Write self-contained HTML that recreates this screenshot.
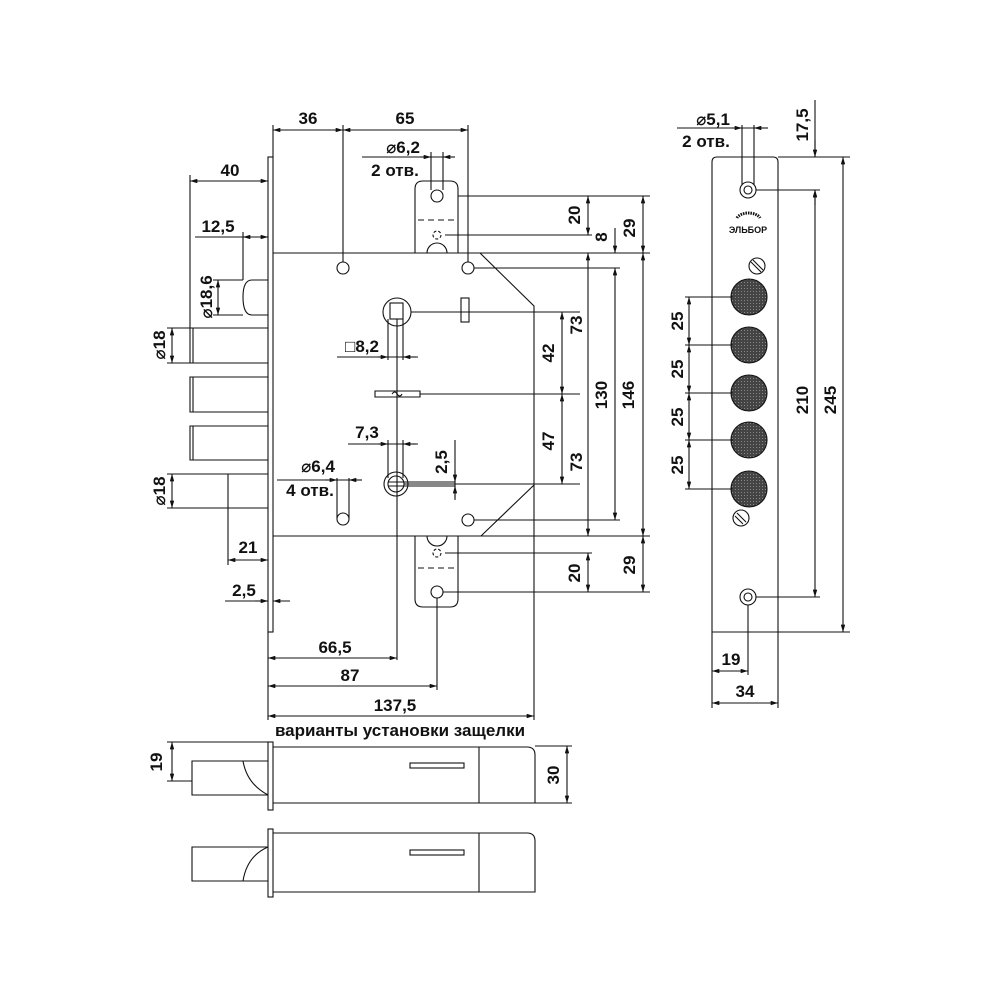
<!DOCTYPE html>
<html><head><meta charset="utf-8"><style>
html,body{margin:0;padding:0;background:#fff}
svg{display:block}
text{font-family:"Liberation Sans","DejaVu Sans",sans-serif;font-weight:bold;font-size:17px;fill:#111}
</style></head><body>
<svg width="1000" height="1000" viewBox="0 0 1000 1000" xmlns="http://www.w3.org/2000/svg">
<defs>
<marker id="a" viewBox="0 0 10 6" refX="10" refY="3" markerWidth="8" markerHeight="4" orient="auto-start-reverse"><path d="M0,0L10,3L0,6z" fill="#111"/></marker>
<pattern id="h" width="3" height="3" patternUnits="userSpaceOnUse"><rect width="3" height="3" fill="#444"/><rect width="1" height="1" fill="#888"/></pattern>
</defs>
<g stroke="#111" stroke-width="1.1" fill="none">
<!-- faceplate & body -->
<rect x="268" y="157" width="5" height="475" fill="#fff"/>
<path d="M273,253 H480 L534,306 V485 L481,536 H273"/>
<line x1="480" y1="253" x2="650" y2="253"/>
<line x1="481" y1="536" x2="650" y2="536"/>
<line x1="534" y1="485" x2="534" y2="720"/>
<!-- strike plates -->
<path d="M415,253 V189 Q415,181 423,181 H450 Q458,181 458,189 V253"/>
<circle cx="437" cy="196" r="6"/>
<path d="M418,220 H455" stroke-dasharray="6,4"/>
<circle cx="437" cy="235" r="4" stroke-dasharray="3,2"/>
<path d="M427,253 A10,10 0 0 1 447,253"/>
<path d="M415,536 V599 Q415,607 423,607 H450 Q458,607 458,599 V536"/>
<circle cx="437" cy="592" r="6"/>
<path d="M418,568 H455" stroke-dasharray="6,4"/>
<circle cx="437" cy="553" r="4" stroke-dasharray="3,2"/>
<path d="M427,536 A10,10 0 0 0 447,536"/>
<!-- holes -->
<circle cx="343" cy="268" r="6"/><circle cx="468" cy="268" r="6"/>
<circle cx="468" cy="520" r="6"/>
<path d="M337,478 V519 M349,478 V519"/><circle cx="343" cy="519" r="6" fill="#fff"/>
<!-- spindle -->
<circle cx="397" cy="312" r="14"/>
<rect x="390" y="303" width="13" height="16"/>
<line x1="411" y1="312" x2="580" y2="312"/>
<rect x="461" y="298" width="8" height="24"/>
<path d="M388,319 V360 M403,319 V360 M397,319 V660"/>
<!-- key -->
<path d="M375,391 H420 V397 H375 Z"/>
<path d="M392,394 q3,-4 5,0 q3,4 5,0"/>
<line x1="420" y1="394" x2="580" y2="394"/>
<!-- cylinder -->
<circle cx="396" cy="484" r="12"/><circle cx="396" cy="484" r="8"/>
<path d="M388,482 H455 M388,486 H455 M404,484 H580"/>
<!-- bolts -->
<path d="M268,280 H252 Q243,280 243,297 Q243,315 252,315 H268"/>
<path d="M268,328 H190 V363 H268 M193,328 V363"/>
<path d="M268,377 H190 V412 H268 M193,377 V412"/>
<path d="M268,426 H190 V460 H268 M193,426 V460"/>
<path d="M268,474 H228 V508 H268"/>
<!-- left dims -->
<line x1="190" y1="175" x2="190" y2="328"/>
<line x1="190" y1="181" x2="268" y2="181" marker-start="url(#a)" marker-end="url(#a)"/>
<line x1="243" y1="232" x2="243" y2="280"/>
<line x1="195" y1="237" x2="268" y2="237"/>
<line x1="250" y1="237" x2="243" y2="237" marker-end="url(#a)"/>
<line x1="260" y1="237" x2="268" y2="237" marker-end="url(#a)"/>
<line x1="213" y1="280" x2="243" y2="280"/><line x1="213" y1="315" x2="243" y2="315"/>
<line x1="218" y1="280" x2="218" y2="315" marker-start="url(#a)" marker-end="url(#a)"/>
<line x1="167" y1="328" x2="190" y2="328"/><line x1="167" y1="363" x2="190" y2="363"/>
<line x1="172" y1="328" x2="172" y2="363" marker-start="url(#a)" marker-end="url(#a)"/>
<line x1="167" y1="474" x2="228" y2="474"/><line x1="167" y1="508" x2="228" y2="508"/>
<line x1="172" y1="474" x2="172" y2="508" marker-start="url(#a)" marker-end="url(#a)"/>
<line x1="228" y1="508" x2="228" y2="565"/>
<line x1="228" y1="560" x2="268" y2="560" marker-start="url(#a)" marker-end="url(#a)"/>
<line x1="225" y1="601" x2="268" y2="601"/>
<line x1="255" y1="601" x2="268" y2="601" marker-end="url(#a)"/>
<line x1="290" y1="601" x2="273" y2="601" marker-end="url(#a)"/>
<!-- top dims -->
<line x1="273" y1="125" x2="273" y2="157"/>
<line x1="343" y1="125" x2="343" y2="262"/>
<line x1="468" y1="125" x2="468" y2="262"/>
<line x1="273" y1="130" x2="343" y2="130" marker-start="url(#a)" marker-end="url(#a)"/>
<line x1="343" y1="130" x2="468" y2="130" marker-start="url(#a)" marker-end="url(#a)"/>
<line x1="362" y1="157" x2="455" y2="157"/>
<line x1="431" y1="152" x2="431" y2="190"/><line x1="443" y1="152" x2="443" y2="190"/>
<line x1="420" y1="157" x2="431" y2="157" marker-end="url(#a)"/>
<line x1="455" y1="157" x2="443" y2="157" marker-end="url(#a)"/>
<!-- inner dims -->
<line x1="337" y1="357" x2="418" y2="357"/>
<line x1="378" y1="357" x2="388" y2="357" marker-end="url(#a)"/>
<line x1="416" y1="357" x2="403" y2="357" marker-end="url(#a)"/>
<line x1="348" y1="444" x2="418" y2="444"/>
<line x1="388" y1="440" x2="388" y2="478"/><line x1="403" y1="440" x2="403" y2="478"/>
<line x1="378" y1="444" x2="388" y2="444" marker-end="url(#a)"/>
<line x1="416" y1="444" x2="403" y2="444" marker-end="url(#a)"/>
<line x1="277" y1="480" x2="362" y2="480"/>
<line x1="325" y1="480" x2="337" y2="480" marker-end="url(#a)"/>
<line x1="362" y1="480" x2="349" y2="480" marker-end="url(#a)"/>
<line x1="455" y1="440" x2="455" y2="500"/>
<line x1="455" y1="470" x2="455" y2="482" marker-end="url(#a)"/>
<line x1="455" y1="498" x2="455" y2="486" marker-end="url(#a)"/>
<!-- right dims -->
<line x1="562" y1="312" x2="562" y2="394" marker-start="url(#a)" marker-end="url(#a)"/>
<line x1="562" y1="394" x2="562" y2="484" marker-start="url(#a)" marker-end="url(#a)"/>
<line x1="458" y1="196" x2="650" y2="196"/>
<line x1="445" y1="235" x2="592" y2="235"/>
<line x1="474" y1="268" x2="620" y2="268"/>
<line x1="474" y1="520" x2="620" y2="520"/>
<line x1="445" y1="553" x2="592" y2="553"/>
<line x1="443" y1="592" x2="650" y2="592"/>
<line x1="588" y1="196" x2="588" y2="235" marker-start="url(#a)" marker-end="url(#a)"/>
<line x1="588" y1="253" x2="588" y2="536" marker-start="url(#a)" marker-end="url(#a)"/>
<line x1="588" y1="553" x2="588" y2="592" marker-start="url(#a)" marker-end="url(#a)"/>
<line x1="615" y1="228" x2="615" y2="253" marker-end="url(#a)"/>
<line x1="615" y1="268" x2="615" y2="520" marker-start="url(#a)" marker-end="url(#a)"/>
<line x1="643" y1="196" x2="643" y2="253" marker-start="url(#a)" marker-end="url(#a)"/>
<line x1="643" y1="253" x2="643" y2="536" marker-start="url(#a)" marker-end="url(#a)"/>
<line x1="643" y1="536" x2="643" y2="592" marker-start="url(#a)" marker-end="url(#a)"/>
<!-- bottom dims -->
<line x1="268" y1="632" x2="268" y2="720"/>
<line x1="437" y1="598" x2="437" y2="690"/>
<line x1="268" y1="658" x2="397" y2="658" marker-start="url(#a)" marker-end="url(#a)"/>
<line x1="268" y1="686" x2="437" y2="686" marker-start="url(#a)" marker-end="url(#a)"/>
<line x1="268" y1="716" x2="534" y2="716" marker-start="url(#a)" marker-end="url(#a)"/>
<!-- right plate -->
<path d="M712,632 V162 Q712,157 717,157 H773 Q778,157 778,162 V632 Z"/>
<circle cx="748" cy="190" r="8"/><circle cx="748" cy="190" r="4"/>
<circle cx="757" cy="266" r="8"/><path d="M751,262 L761,272 M753,260 L763,270"/>
<circle cx="741" cy="518" r="8"/><path d="M735,516 L743,524 M737,513 L746,522"/>
<circle cx="748" cy="597" r="8"/><circle cx="748" cy="597" r="4"/>
<g fill="url(#h)">
<circle cx="749" cy="297" r="18"/><circle cx="749" cy="345" r="18"/><circle cx="749" cy="393" r="18"/><circle cx="749" cy="440" r="18"/><circle cx="749" cy="489" r="18"/>
</g>
<path d="M737,218 A12,7 0 0 1 760,218" stroke-width="3" stroke-dasharray="1.5,1"/>
<line x1="742" y1="125" x2="742" y2="185"/><line x1="754" y1="125" x2="754" y2="185"/>
<line x1="677" y1="128" x2="768" y2="128"/>
<line x1="732" y1="128" x2="742" y2="128" marker-end="url(#a)"/>
<line x1="768" y1="128" x2="754" y2="128" marker-end="url(#a)"/>
<line x1="778" y1="157" x2="850" y2="157"/>
<line x1="756" y1="190" x2="820" y2="190"/>
<line x1="756" y1="597" x2="820" y2="597"/>
<line x1="712" y1="632" x2="850" y2="632"/>
<line x1="815" y1="100" x2="815" y2="157"/>
<line x1="815" y1="140" x2="815" y2="157" marker-end="url(#a)"/>
<line x1="815" y1="205" x2="815" y2="190" marker-end="url(#a)"/>
<line x1="815" y1="190" x2="815" y2="597" marker-start="url(#a)" marker-end="url(#a)"/>
<line x1="843" y1="157" x2="843" y2="632" marker-start="url(#a)" marker-end="url(#a)"/>
<line x1="685" y1="297" x2="733" y2="297"/><line x1="685" y1="345" x2="733" y2="345"/>
<line x1="685" y1="393" x2="733" y2="393"/><line x1="685" y1="440" x2="733" y2="440"/>
<line x1="685" y1="489" x2="733" y2="489"/>
<line x1="689" y1="297" x2="689" y2="345" marker-start="url(#a)" marker-end="url(#a)"/>
<line x1="689" y1="345" x2="689" y2="393" marker-start="url(#a)" marker-end="url(#a)"/>
<line x1="689" y1="393" x2="689" y2="440" marker-start="url(#a)" marker-end="url(#a)"/>
<line x1="689" y1="440" x2="689" y2="489" marker-start="url(#a)" marker-end="url(#a)"/>
<line x1="712" y1="632" x2="712" y2="708"/><line x1="778" y1="632" x2="778" y2="708"/>
<line x1="748" y1="605" x2="748" y2="675"/>
<line x1="712" y1="671" x2="748" y2="671" marker-start="url(#a)" marker-end="url(#a)"/>
<line x1="712" y1="703" x2="778" y2="703" marker-start="url(#a)" marker-end="url(#a)"/>
<!-- latch 1 -->
<rect x="268" y="742" width="5" height="68"/>
<path d="M273,747 H527 Q535,747 535,755 V803 H273"/>
<line x1="479" y1="747" x2="479" y2="803"/>
<rect x="410" y="763" width="54" height="5"/>
<path d="M268,761 H192 V795 H268 M243,761 Q247,784 268,795"/>
<line x1="167" y1="742" x2="268" y2="742"/><line x1="167" y1="781" x2="192" y2="781"/>
<line x1="172" y1="742" x2="172" y2="781" marker-start="url(#a)" marker-end="url(#a)"/>
<line x1="535" y1="746" x2="572" y2="746"/><line x1="535" y1="803" x2="572" y2="803"/>
<line x1="567" y1="746" x2="567" y2="803" marker-start="url(#a)" marker-end="url(#a)"/>
<!-- latch 2 -->
<rect x="268" y="829" width="5" height="68"/>
<path d="M273,833 H527 Q535,833 535,841 V892 H273"/>
<line x1="479" y1="833" x2="479" y2="892"/>
<rect x="410" y="850" width="54" height="5"/>
<path d="M268,847 H192 V881 H268 M268,847 Q247,856 243,881"/>
</g>
<g>
<text x="230" y="176" text-anchor="middle">40</text>
<text x="308" y="124" text-anchor="middle">36</text>
<text x="405" y="124" text-anchor="middle">65</text>
<text x="403" y="153" text-anchor="middle">⌀6,2</text>
<text x="395" y="176" text-anchor="middle">2 отв.</text>
<text x="218" y="232" text-anchor="middle">12,5</text>
<text transform="translate(212,297) rotate(-90)" text-anchor="middle">⌀18,6</text>
<text transform="translate(165,345) rotate(-90)" text-anchor="middle">⌀18</text>
<text transform="translate(165,491) rotate(-90)" text-anchor="middle">⌀18</text>
<text x="362" y="352" text-anchor="middle">□8,2</text>
<text x="367" y="438" text-anchor="middle">7,3</text>
<text x="318" y="472" text-anchor="middle">⌀6,4</text>
<text x="310" y="496" text-anchor="middle">4 отв.</text>
<text transform="translate(447,462) rotate(-90)" text-anchor="middle">2,5</text>
<text x="248" y="553" text-anchor="middle">21</text>
<text x="244" y="596" text-anchor="middle">2,5</text>
<text x="335" y="653" text-anchor="middle">66,5</text>
<text x="350" y="681" text-anchor="middle">87</text>
<text x="395" y="711" text-anchor="middle">137,5</text>
<text transform="translate(580,215) rotate(-90)" text-anchor="middle">20</text>
<text transform="translate(607,237) rotate(-90)" text-anchor="middle">8</text>
<text transform="translate(635,228) rotate(-90)" text-anchor="middle">29</text>
<text transform="translate(582,325) rotate(-90)" text-anchor="middle">73</text>
<text transform="translate(554,353) rotate(-90)" text-anchor="middle">42</text>
<text transform="translate(607,395) rotate(-90)" text-anchor="middle">130</text>
<text transform="translate(634,395) rotate(-90)" text-anchor="middle">146</text>
<text transform="translate(554,441) rotate(-90)" text-anchor="middle">47</text>
<text transform="translate(582,462) rotate(-90)" text-anchor="middle">73</text>
<text transform="translate(580,573) rotate(-90)" text-anchor="middle">20</text>
<text transform="translate(635,565) rotate(-90)" text-anchor="middle">29</text>
<text x="713" y="125" text-anchor="middle">⌀5,1</text>
<text x="706" y="147" text-anchor="middle">2 отв.</text>
<text transform="translate(808,125) rotate(-90)" text-anchor="middle">17,5</text>
<text transform="translate(808,400) rotate(-90)" text-anchor="middle">210</text>
<text transform="translate(836,400) rotate(-90)" text-anchor="middle">245</text>
<text transform="translate(683,321) rotate(-90)" text-anchor="middle">25</text>
<text transform="translate(683,369) rotate(-90)" text-anchor="middle">25</text>
<text transform="translate(683,417) rotate(-90)" text-anchor="middle">25</text>
<text transform="translate(683,465) rotate(-90)" text-anchor="middle">25</text>
<text x="731" y="665" text-anchor="middle">19</text>
<text x="745" y="697" text-anchor="middle">34</text>
<text x="748" y="233" text-anchor="middle" style="font-size:9px">ЭЛЬБОР</text>
<text x="400" y="736" text-anchor="middle">варианты установки защелки</text>
<text transform="translate(162,762) rotate(-90)" text-anchor="middle">19</text>
<text transform="translate(559,775) rotate(-90)" text-anchor="middle">30</text>
</g>
</svg>
</body></html>
